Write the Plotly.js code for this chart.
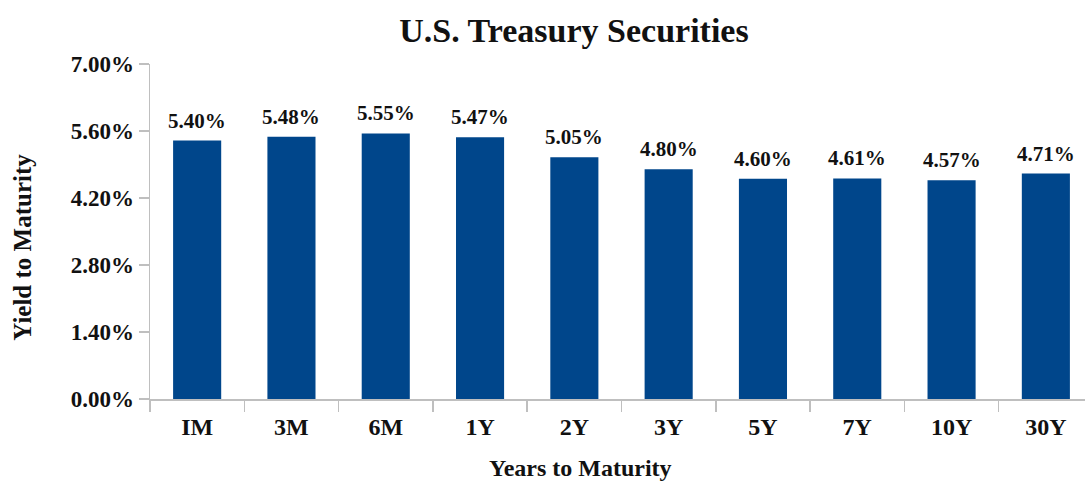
<!DOCTYPE html>
<html>
<head>
<meta charset="utf-8">
<script src="https://cdn.plot.ly/plotly-3.0.1.min.js"></script>
<style>html,body{margin:0;padding:0;background:#fff;}#chart{width:1085px;height:481px;}</style>
</head>
<body>
<div id="chart"></div>
<script>
const maturities = ["IM", "3M", "6M", "1Y", "2Y", "3Y", "5Y", "7Y", "10Y", "30Y"];
const yields = [5.40, 5.48, 5.55, 5.47, 5.05, 4.80, 4.60, 4.61, 4.57, 4.71];
const yTicks = [0, 1.4, 2.8, 4.2, 5.6, 7.0];

const FONT = "'Liberation Serif', 'DejaVu Serif', serif";
const trace = {
  type: 'bar',
  x: maturities,
  y: yields,
  width: 0.51,
  marker: {color: '#00468B'},
  hoverinfo: 'none'
};
const annotations = maturities.map((m, i) => ({
  x: m, y: yields[i], xref: 'x', yref: 'y',
  text: '<b>' + yields[i].toFixed(2) + '%</b>',
  showarrow: false, yanchor: 'bottom', xanchor: 'center', yshift: 6,
  font: {family: FONT, size: 21, color: '#111'}
}));
annotations.push({
  xref: 'paper', yref: 'paper', x: -0.136, y: 0.454,
  text: '<b>Yield to Maturity</b>', textangle: -90, showarrow: false,
  xanchor: 'center', yanchor: 'middle',
  font: {family: FONT, size: 25, color: '#111'}
});
annotations.push({
  xref: 'paper', yref: 'paper', x: 0.46, y: -0.206,
  text: '<b>Years to Maturity</b>', showarrow: false,
  xanchor: 'center', yanchor: 'middle',
  font: {family: FONT, size: 24, color: '#111'}
});
const layout = {
  width: 1085, height: 481,
  margin: {l: 150, r: 0, t: 64, b: 82},
  paper_bgcolor: '#fff', plot_bgcolor: '#fff',
  showlegend: false,
  font: {family: FONT, color: '#111'},
  title: {text: '<b>U.S. Treasury Securities</b>', font: {family: FONT, size: 34, color: '#111'}, x: 0.529, xanchor: 'center', y: 0.937, yanchor: 'middle'},
  annotations: annotations,
  xaxis: {
    type: 'category',
    range: [-0.5, 9.415],
    showgrid: false, zeroline: false,
    showline: true, linecolor: '#bfbfbf', linewidth: 1.5,
    ticks: 'outside', ticklen: 11, tickcolor: '#bfbfbf', tickwidth: 1.5,
    tickson: 'boundaries',
    ticklabelstandoff: 6,
    tickfont: {family: FONT, size: 24, color: '#111', weight: 'bold'}
  },
  yaxis: {
    range: [0, 7],
    tickvals: yTicks,
    ticktext: yTicks.map(v => v.toFixed(2) + '%'),
    showgrid: false, zeroline: false,
    showline: true, linecolor: '#bfbfbf', linewidth: 1.5,
    ticks: 'outside', ticklen: 10, tickcolor: '#bfbfbf', tickwidth: 1.5,
    tickfont: {family: FONT, size: 23, color: '#111', weight: 'bold'}
  }
};
Plotly.newPlot('chart', [trace], layout, {displayModeBar: false, staticPlot: true});
</script>
</body>
</html>
